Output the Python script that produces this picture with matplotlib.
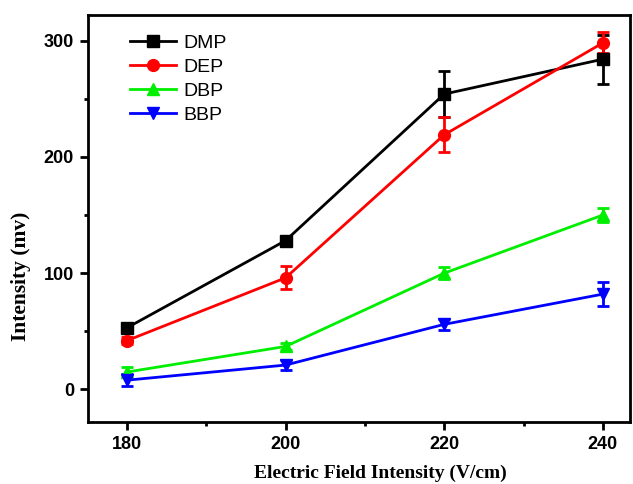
import matplotlib
matplotlib.use("Agg")
import matplotlib.pyplot as plt
from matplotlib.ticker import MultipleLocator
from matplotlib.lines import Line2D

x = [180, 200, 220, 240]
series = ["DMP", "DEP", "DBP", "BBP"]
dmp = [53, 128, 254, 284]
dmp_err = [3, 4, 20, 21]
dep = [42, 96, 219, 298]
dep_err = [3, 10, 15, 9]
dbp = [15, 37, 100, 150]
dbp_err = [4, 3, 5, 6]
bbp = [8, 21, 56, 82]
bbp_err = [5, 4, 5, 10]

colors = ["black", "#ff0000", "#00ee00", "#0000ff"]
markers = ["s", "o", "^", "v"]

fig = plt.figure(figsize=(6.33, 4.84), dpi=100)
ax = fig.add_axes([0.139, 0.128, 0.856, 0.841])

handles = []
for name, y, e, c, m in zip(series, [dmp, dep, dbp, bbp], [dmp_err, dep_err, dbp_err, bbp_err], colors, markers):
    ax.errorbar(x, y, yerr=e, color=c, marker=m, markersize=8.5, linewidth=2,
                elinewidth=2, capsize=4, capthick=2)
    handles.append(Line2D([], [], color=c, marker=m, markersize=8.5, linewidth=2, label=name))

ax.set_xlim(175.1, 243.4)
ax.set_ylim(-28, 322)
ax.set_xticks(x)
ax.set_yticks([0, 100, 200, 300])
ax.xaxis.set_minor_locator(MultipleLocator(10))
ax.yaxis.set_minor_locator(MultipleLocator(50))
for s in ax.spines.values():
    s.set_linewidth(2)
ax.tick_params(which="both", direction="out", width=2)
ax.tick_params(which="major", length=6, pad=4)
ax.tick_params(which="minor", length=3)
for lab in ax.get_xticklabels() + ax.get_yticklabels():
    lab.set_fontfamily("Liberation Sans")
    lab.set_fontweight("bold")
    lab.set_fontsize(13)

ax.set_xlabel("Electric Field Intensity (V/cm)", fontfamily="Liberation Serif",
              fontweight="bold", fontsize=14)
ax.set_ylabel("Intensity (mv)", fontfamily="Liberation Serif",
              fontweight="bold", fontsize=15.5)
ax.xaxis.set_label_coords(0.539, -0.125)
ax.xaxis.label.set_va("center")
ax.yaxis.set_label_coords(-0.124, 0.359)
ax.yaxis.label.set_va("center")

leg = ax.legend(handles=handles, loc="upper left", frameon=False,
                prop={"family": "Liberation Sans", "size": 14},
                handlelength=2.4, handletextpad=0.35, labelspacing=0.33,
                borderaxespad=0.0, borderpad=0.0, bbox_to_anchor=(0.077, 0.953))

fig.savefig("out.png", dpi=100)
